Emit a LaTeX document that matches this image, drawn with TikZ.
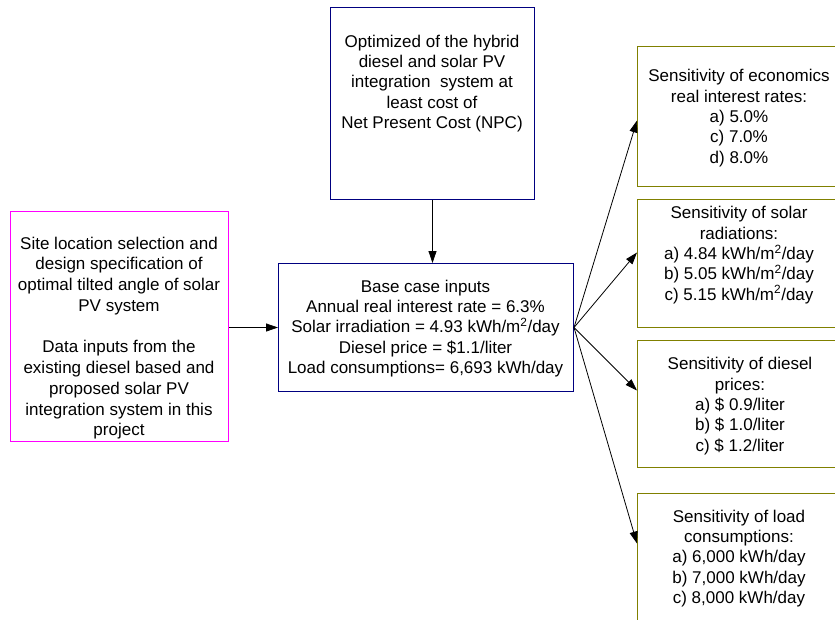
\documentclass[tikz,border=0pt]{standalone}
\usepackage{fontspec}
\setmainfont{Liberation Sans}
\usetikzlibrary{arrows.meta}
\definecolor{navyb}{RGB}{0,0,128}
\definecolor{magb}{RGB}{255,0,255}
\definecolor{oliveb}{RGB}{128,128,0}
\tikzset{
  boxbase/.style={draw, line width=1pt, inner sep=0pt, anchor=north west},
  txt/.style={align=center, font=\fontsize{17}{20.4}\selectfont, inner sep=0pt},
  conn/.style={-{Triangle[length=12pt,width=8pt]}, line width=0.8pt, black}
}
\begin{document}
\begin{tikzpicture}[x=1pt,y=-1pt]
\useasboundingbox (0,0) rectangle (835,619);
\clip (0,0) rectangle (835,619);
% boxes
\node[boxbase, navyb, minimum width=204pt, minimum height=192pt] (top) at (330,7) {};
\node[boxbase, navyb, minimum width=295pt, minimum height=128pt] (base) at (278,263) {};
\node[boxbase, magb, minimum width=218pt, minimum height=230pt] (left) at (10,211) {};
\node[boxbase, oliveb, minimum width=204pt, minimum height=140pt] (r1) at (637,46) {};
\node[boxbase, oliveb, minimum width=204pt, minimum height=128pt] (r2) at (637,199) {};
\node[boxbase, oliveb, minimum width=204pt, minimum height=127pt] (r3) at (637,340) {};
\node[boxbase, oliveb, minimum width=204pt, minimum height=140pt] (r4) at (637,493) {};
% texts
\node[txt] (ttop) at (432,83.5) {Optimized of the hybrid\\diesel and solar PV\\integration\ \ system at\\least cost of\\Net Present Cost (NPC)};
\node[txt] (tbase) at (425.5,328.5) {Base case inputs\\Annual real interest rate = 6.3\%\\Solar irradiation = 4.93 kWh/m\textsuperscript{2}/day\\Diesel price = \$1.1/liter\\Load consumptions= 6,693 kWh/day};
\node[txt, font=\fontsize{17}{20.7}\selectfont] (tleft) at (119,338) {Site location selection and\\design specification of\\optimal tilted angle of solar\\PV system\\[21pt]Data inputs from the\\existing diesel based and\\proposed solar PV\\integration system in this\\project};
\node[txt] (tr1) at (739,118) {Sensitivity of economics\\real interest rates:\\a) 5.0\%\\c) 7.0\%\\d) 8.0\%};
\node[txt] (tr2) at (739,255) {Sensitivity of solar\\radiations:\\a) 4.84 kWh/m\textsuperscript{2}/day\\b) 5.05 kWh/m\textsuperscript{2}/day\\c) 5.15 kWh/m\textsuperscript{2}/day};
\node[txt] (tr3) at (740,406) {Sensitivity of diesel\\prices:\\a) \$ 0.9/liter\\b) \$ 1.0/liter\\c) \$ 1.2/liter};
\node[txt] (tr4) at (739,558.5) {Sensitivity of load\\consumptions:\\a) 6,000 kWh/day\\b) 7,000 kWh/day\\c) 8,000 kWh/day};
% connectors
\draw[conn] (top.south) -- (top.south |- base.north);
\draw[conn] (base.west -| left.east) -- (base.west);
\draw[conn] (base.east) -- ([yshift=-4pt]r1.west);
\draw[conn] (base.east) -- ([yshift=11pt]r2.west);
\draw[conn] (base.east) -- ([yshift=13.5pt]r3.west);
\draw[conn] (base.east) -- ([yshift=20pt]r4.west);
\end{tikzpicture}
\end{document}
